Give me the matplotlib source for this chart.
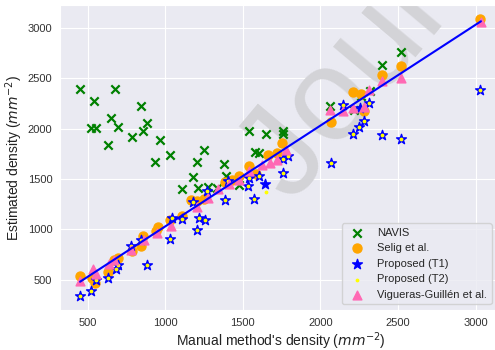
import numpy as np
import matplotlib
matplotlib.use("Agg")
import matplotlib.pyplot as plt
import seaborn as sns

# %%
navis_x = [452, 545, 521, 553, 676, 650, 697, 630, 785, 845, 880, 860, 964, 933, 1032,
           1202, 1253, 1378, 1537, 1648, 1176, 1110, 1213, 1274, 1332, 1390, 1476, 1576,
           1603, 1760, 1760, 2063, 2262, 2318, 2217, 2399, 2520]
navis_y = [2397, 2278, 2003, 2007, 2397, 2109, 2017, 1838, 1914, 2222, 2060, 1980, 1891, 1669, 1735,
           1669, 1789, 1652, 1980, 1950, 1515, 1405, 1410, 1418, 1411, 1533, 1444, 1769,
           1762, 1975, 1945, 2230, 2325, 2378, 2189, 2636, 2760]

selig_x = [452, 549, 532, 635, 671, 699, 786, 847, 858, 940, 955, 1030, 1107, 1165, 1208, 1251,
           1386, 1433, 1476, 1540, 1584, 1659, 1723, 1750, 2067, 2212, 2263, 2281, 2399, 2520, 3028]
selig_y = [535, 465, 518, 577, 699, 716, 784, 831, 935, 985, 1020, 1096, 1130, 1288, 1278, 1302,
           1471, 1487, 1533, 1633, 1550, 1742, 1758, 1858, 2065, 2365, 2348, 2172, 2536, 2626, 3092]

t1_x = [452, 523, 553, 633, 682, 697, 783, 847, 880, 1032, 1047, 1111, 1176, 1202, 1215, 1257,
        1270, 1386, 1405, 1534, 1537, 1575, 1605, 1645, 1757, 1794, 1760, 2067, 2148, 2210,
        2249, 2281, 2313, 2257, 2399, 2520, 3028]
t1_y = [335, 388, 500, 520, 600, 643, 831, 890, 643, 905, 1113, 1103, 1270, 997, 1113, 1093,
        1378, 1295, 1477, 1427, 1510, 1305, 1527, 1452, 1699, 1725, 1560, 1659, 2236, 1943,
        2015, 2076, 2255, 2205, 1940, 1900, 2387]

t2_x = [452, 523, 553, 633, 682, 697, 783, 847, 880, 1032, 1047, 1111, 1176, 1202, 1215, 1257,
        1270, 1386, 1405, 1534, 1537, 1575, 1605, 1648, 1757, 1794, 1760, 2067, 2148, 2210,
        2249, 2281, 2313, 2399, 2520, 3028]
t2_y = [335, 388, 500, 520, 600, 643, 831, 890, 643, 905, 1113, 1103, 1270, 997, 1113, 1093,
        1378, 1295, 1477, 1427, 1510, 1305, 1527, 1370, 1699, 1725, 1560, 1659, 2236, 1943,
        2015, 2076, 2255, 1940, 1900, 2387]

vig_x = [452, 536, 555, 639, 671, 779, 865, 945, 1036, 1204, 1276, 1337, 1412, 1476, 1540,
         1622, 1678, 1723, 1777, 2062, 2145, 2210, 2278, 2313, 2395, 2520, 3033]
vig_y = [484, 600, 560, 650, 690, 798, 898, 960, 1030, 1225, 1312, 1401, 1454, 1494, 1576,
         1636, 1660, 1692, 1792, 2189, 2172, 2210, 2212, 2380, 2470, 2503, 3062]

line_x = [452, 3033]
line_y = [478, 3068]

# %%
sns.set_style("darkgrid")
plt.rcParams['font.family'] = ['Liberation Sans', 'DejaVu Sans']

fig = plt.figure(figsize=(4.95, 3.5), dpi=100)
ax = fig.add_axes([60 / 495, 40 / 350, 441 / 495, 305 / 350])

# watermark, mostly outside the visible area
ax.text(292 / 495, 1 - 205 / 350, "Journal Pre-proof", transform=fig.transFigure,
        rotation=50, rotation_mode='anchor', fontsize=95, color='#d3d3d7',
        ha='left', va='baseline', zorder=1, clip_on=True)

ax.scatter(navis_x, navis_y, marker='x', color='green', s=36, linewidths=1.6, label='NAVIS', zorder=2)
ax.scatter(selig_x, selig_y, marker='o', color='#FFA500', s=42, label='Selig et al.', zorder=2)
ax.scatter(t1_x, t1_y, marker='*', color='blue', s=55, label='Proposed (T1)', zorder=2)
ax.scatter(t2_x, t2_y, marker='.', color='yellow', s=12, label='Proposed (T2)', zorder=2)
ax.scatter(vig_x, vig_y, marker='^', color='hotpink', s=40, label='Vigueras-Guillén et al.', zorder=2)
ax.plot(line_x, line_y, color='blue', lw=1.5, zorder=3)

ax.set_xticks([500, 1000, 1500, 2000, 2500, 3000])
ax.set_yticks([500, 1000, 1500, 2000, 2500, 3000])
ax.tick_params(labelsize=8, colors='#333333', pad=2)
ax.set_xlabel("Manual method's density ($mm^{-2}$)", fontsize=10, color='#222222', labelpad=2)
ax.set_ylabel("Estimated density ($mm^{-2}$)", fontsize=10, color='#222222', labelpad=2)

leg = ax.legend(loc='lower right', fontsize=8, frameon=True, bbox_to_anchor=(0.9915, 0.0))
leg.get_frame().set_facecolor('#EAEAF2')
leg.get_frame().set_edgecolor('#cccccc')

fig.savefig("out.png", dpi=100)
